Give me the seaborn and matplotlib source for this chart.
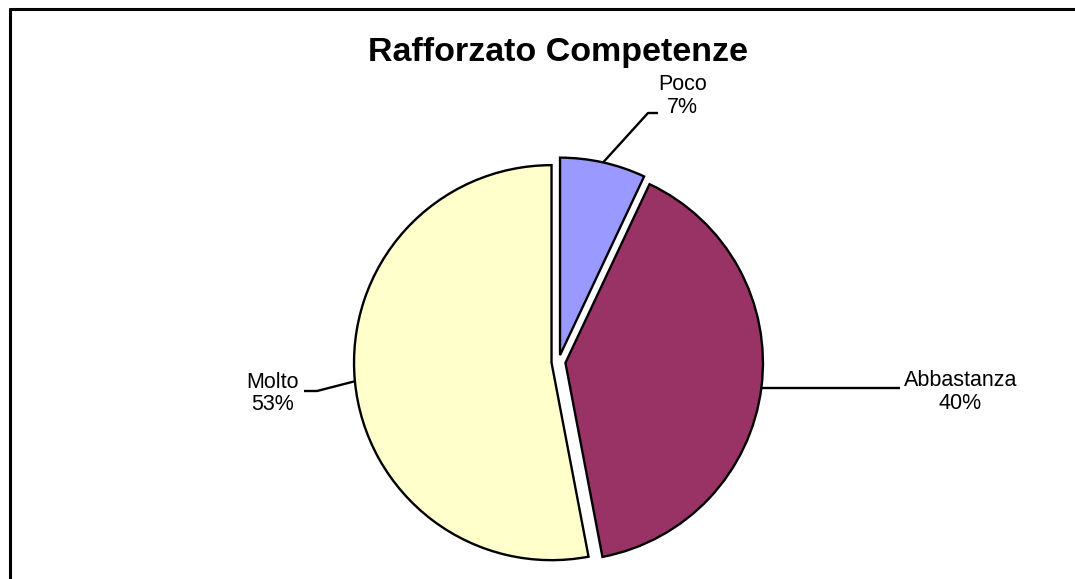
import numpy as np
import matplotlib
matplotlib.use("Agg")
import matplotlib.pyplot as plt
import seaborn as sns

# data
categories = ['Poco', 'Abbastanza', 'Molto']
shares = [7, 40, 53]
colors = ['#9999FF', '#993366', '#FFFFCC']
title = 'Rafforzato Competenze'

sns.set_theme(style='white')
plt.rcParams['font.family'] = ['Liberation Sans', 'DejaVu Sans']

W, H = 1075, 579
fig = plt.figure(figsize=(W / 100, H / 100), dpi=100)
ax = fig.add_axes([0, 0, 1, 1])

# pixel-like coordinate system (y up)
cx, cy, r = 558.5, H - 362, 197.5
gap = 7  # explode distance, in data units (pixels here)

wedges, _ = ax.pie(shares, colors=colors, startangle=90, counterclock=False,
                   center=(cx, cy), radius=r, explode=[gap] * len(shares),
                   wedgeprops=dict(edgecolor='black', linewidth=1.7))
ax.set_xlim(0, W)
ax.set_ylim(0, H)
ax.set_aspect('equal')
ax.axis('off')

# leader line knees / ends and label centres (image pixel coords);
# end y of None means a straight horizontal line from the arc point
leaders = {
    'Poco': dict(knee=(648, 113), end=(658, 113), text=(682.5, 96)),
    'Abbastanza': dict(knee=None, end=(900, None), text=(960.5, 392)),
    'Molto': dict(knee=(317, 391), end=(304, 391), text=(273, 393.5)),
}

total = sum(shares)
cum = 0
for cat, val in zip(categories, shares):
    mid = (cum + val / 2) / total * 360
    cum += val
    a = np.deg2rad(mid)
    px = cx + (r + gap) * np.sin(a)
    py = cy + (r + gap) * np.cos(a)
    spec = leaders[cat]
    xs, ys = [px], [py]
    if spec['knee'] is not None:
        xs.append(spec['knee'][0]); ys.append(H - spec['knee'][1])
    ex, ey = spec['end']
    xs.append(ex); ys.append(py if ey is None else H - ey)
    ax.plot(xs, ys, color='black', lw=1.7, solid_capstyle='butt')
    tx, ty = spec['text']
    ax.text(tx, H - ty, f'{cat}\n{val / total:.0%}', ha='center', va='center',
            multialignment='center', fontsize=15.5, linespacing=1.12, color='black')

ax.text(cx, H - 52, title, ha='center', va='center', fontsize=24.5,
        fontweight='bold', color='black')

# outer chart frame (cut off on right and bottom)
fig.add_artist(plt.Line2D([9.5 / W, 9.5 / W], [0, 1 - 8.5 / H], color='black',
                          lw=2.2, transform=fig.transFigure))
fig.add_artist(plt.Line2D([9.5 / W, 1], [1 - 8.5 / H, 1 - 8.5 / H], color='black',
                          lw=2.2, transform=fig.transFigure))

fig.savefig('out.png', dpi=100, facecolor='white')
